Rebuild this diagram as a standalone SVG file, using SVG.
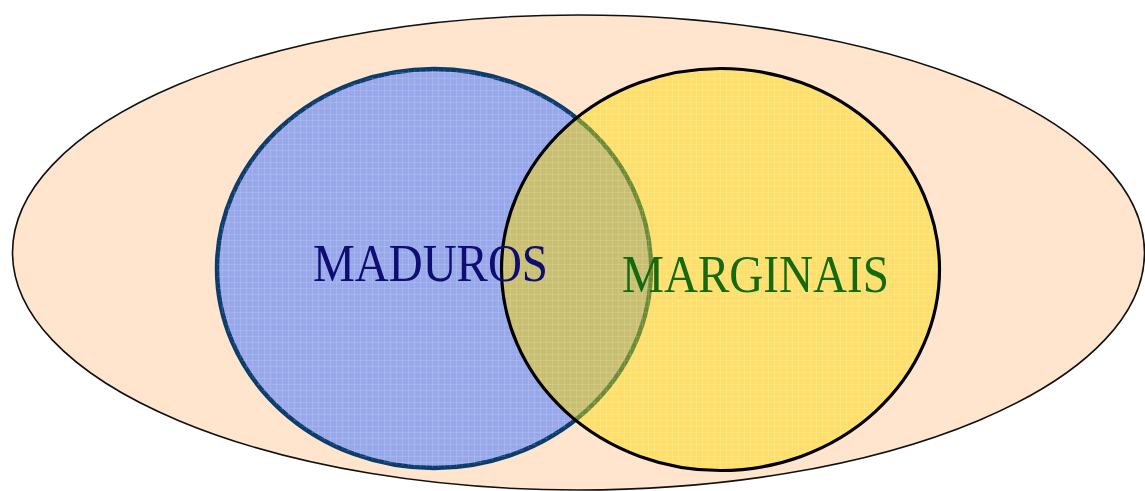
<svg xmlns="http://www.w3.org/2000/svg" width="1145" height="491" viewBox="0 0 1145 491">
  <defs>
    <clipPath id="yclip">
      <ellipse cx="720.5" cy="269.5" rx="219" ry="201"/>
    </clipPath>
    <pattern id="tex" width="6" height="6" patternUnits="userSpaceOnUse">
      <rect x="0" y="0" width="6" height="1" fill="#ffffff" opacity="0.12"/>
      <rect x="0" y="0" width="1" height="6" fill="#ffffff" opacity="0.12"/>
    </pattern>
  </defs>
  <style>
    .lbl { font-family: "Liberation Serif", "Times New Roman", serif; font-size: 52px; }
  </style>
  <rect width="1145" height="491" fill="#ffffff"/>
  <g id="universe">
    <ellipse cx="578.5" cy="252.5" rx="566" ry="237.5" fill="#FFE5CE" stroke="#111111" stroke-width="1.6"/>
  </g>
  <g id="maduros">
    <ellipse cx="434" cy="268.5" rx="217" ry="199.5" fill="#99A8EA" stroke="#0B3C6C" stroke-width="4.5"/>
    <ellipse cx="434" cy="268.5" rx="217" ry="199.5" fill="url(#tex)"/>
  </g>
  <g id="marginais">
    <ellipse cx="720.5" cy="269.5" rx="219" ry="201" fill="#FFDF6C"/>
    <g clip-path="url(#yclip)">
      <ellipse cx="434" cy="268.5" rx="217" ry="199.5" fill="#C9BF72" stroke="#6C8A36" stroke-width="4.5"/>
    </g>
    <ellipse cx="720.5" cy="269.5" rx="219" ry="201" fill="url(#tex)"/>
    <ellipse cx="720.5" cy="269.5" rx="219" ry="201" fill="none" stroke="#000000" stroke-width="3.2"/>
  </g>
  <g id="labels">
    <text class="lbl" x="313" y="281" textLength="235" lengthAdjust="spacingAndGlyphs" fill="#0D0D72">MADUROS</text>
    <text class="lbl" x="622" y="292" textLength="267" lengthAdjust="spacingAndGlyphs" fill="#15690F">MARGINAIS</text>
  </g>
</svg>
